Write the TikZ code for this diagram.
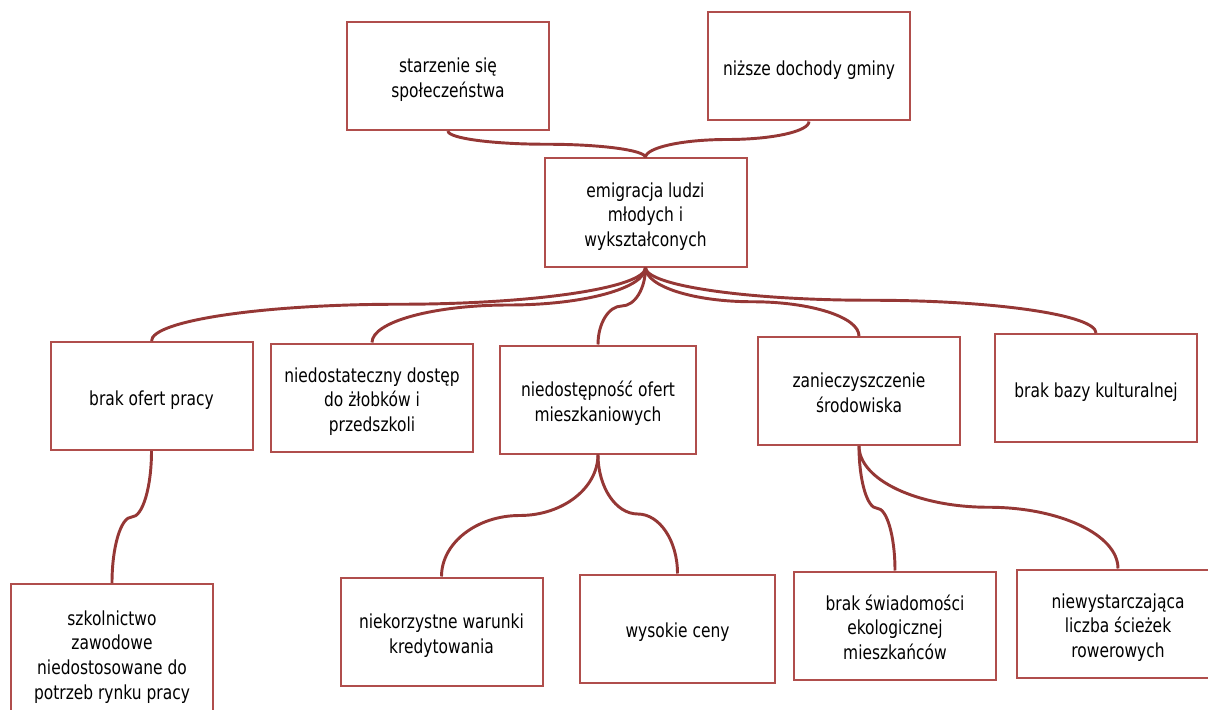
\documentclass[tikz,border=0pt]{standalone}
\usepackage{fontspec}
\setmainfont{DejaVu Sans}[FakeStretch=0.8]
\usetikzlibrary{calc}
\definecolor{boxred}{HTML}{B04E4C}
\definecolor{linkred}{HTML}{953735}
\newcommand\linkbox[2]{%
  \draw[conn] let \p1=(#1.south), \p2=(#2.north) in
    (\p1) .. controls (\x1,{\y1+0.275*(\y2-\y1)}) and ({(\x1+\x2)/2-0.275*(\x2-\x1)},{(\y1+\y2)/2})
    .. ({(\x1+\x2)/2},{(\y1+\y2)/2})
    .. controls ({(\x1+\x2)/2+0.275*(\x2-\x1)},{(\y1+\y2)/2}) and (\x2,{\y2-0.275*(\y2-\y1)})
    .. (\p2);}
\newcommand\boxtext[1]{\raisebox{-3.2pt}[\height][\depth]{\begin{tabular}{@{}c@{}}#1\end{tabular}}}
\tikzset{
  box/.style={draw=boxred, line width=1.5pt, fill=white,
    minimum width=151.5pt, minimum height=81pt, inner sep=0pt,
    font=\fontsize{14.5}{18.5}\selectfont},
  conn/.style={draw=linkred, line width=2.2pt}
}
\begin{document}
\begin{tikzpicture}[x=0.75pt,y=-0.75pt]
\useasboundingbox (0,0) rectangle (1208,710);
\node[box] (sta) at (448,76) {\boxtext{starzenie się\\społeczeństwa}};
\node[box] (niz) at (809,66.5) {\boxtext{niższe dochody gminy}};
\node[box] (emi) at (645.5,212.5) {\boxtext{emigracja ludzi\\młodych i\\wykształconych}};
\node[box] (bop) at (151.5,396) {\boxtext{brak ofert pracy}};
\node[box] (nds) at (372,397.5) {\boxtext{niedostateczny dostęp\\do żłobków i\\przedszkoli}};
\node[box, minimum width=147pt] (nom) at (598,399.5) {\boxtext{niedostępność ofert\\mieszkaniowych}};
\node[box] (zan) at (859,391) {\boxtext{zanieczyszczenie\\środowiska}};
\node[box] (bbk) at (1096,388) {\boxtext{brak bazy kulturalnej}};
\node[box, minimum height=103.5pt] (szk) at (112,653) {\boxtext{szkolnictwo\\zawodowe\\niedostosowane do\\potrzeb rynku pracy}};
\node[box] (nwk) at (441.5,631.5) {\boxtext{niekorzystne warunki\\kredytowania}};
\node[box, minimum width=146pt] (wc) at (677.5,628.5) {\boxtext{wysokie ceny}};
\node[box] (bsw) at (895,625.5) {\boxtext{brak świadomości\\ekologicznej\\mieszkańców}};
\node[box] (nlc) at (1118,623.5) {\boxtext{niewystarczająca\\liczba ścieżek\\rowerowych}};
\linkbox{sta}{emi}
\linkbox{niz}{emi}
\linkbox{emi}{bop}
\linkbox{emi}{nds}
\linkbox{emi}{nom}
\linkbox{emi}{zan}
\linkbox{emi}{bbk}
\linkbox{bop}{szk}
\linkbox{nom}{nwk}
\linkbox{nom}{wc}
\linkbox{zan}{bsw}
\linkbox{zan}{nlc}
\end{tikzpicture}
\end{document}
